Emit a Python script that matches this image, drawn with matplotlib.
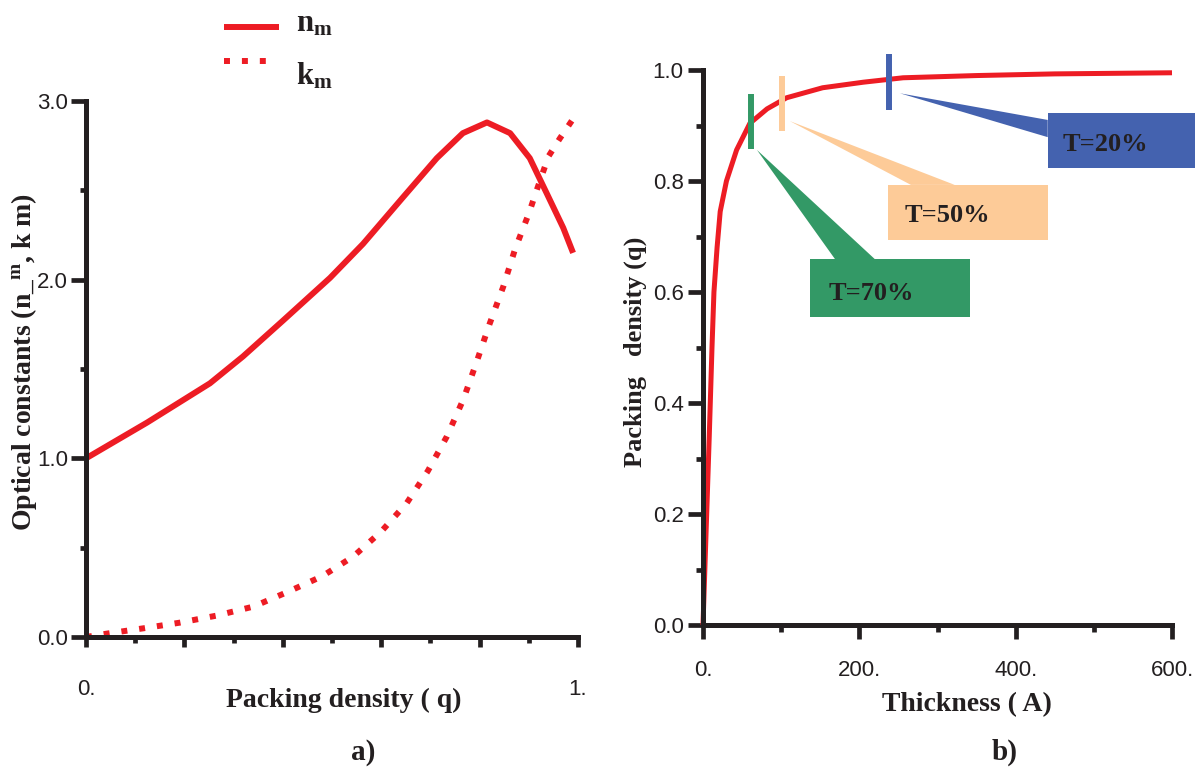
import numpy as np
import matplotlib
matplotlib.use("Agg")
import matplotlib.pyplot as plt
from matplotlib.patches import Rectangle, Polygon
from matplotlib.lines import Line2D

plt.rcParams['mathtext.fontset'] = 'custom'
plt.rcParams['mathtext.rm'] = 'Liberation Serif:bold'
plt.rcParams['mathtext.bf'] = 'Liberation Serif:bold'
plt.rcParams['mathtext.it'] = 'Liberation Serif:bold'

# ---- panel a) optical constants vs packing density ----
q_n = [0, 0.124, 0.252, 0.319, 0.40, 0.496, 0.563, 0.644, 0.713, 0.766,
       0.815, 0.862, 0.902, 0.937, 0.970, 0.99]
n_m = [1.0, 1.20, 1.42, 1.57, 1.77, 2.01, 2.20, 2.46, 2.68, 2.82,
       2.88, 2.82, 2.68, 2.48, 2.29, 2.15]

q_k = [0, 0.045, 0.12, 0.19, 0.266, 0.34, 0.408, 0.48, 0.543, 0.60, 0.652,
       0.695, 0.733, 0.767, 0.794, 0.82, 0.848, 0.872, 0.90, 0.916, 0.94,
       0.963, 0.99]
k_m = [0, 0.02, 0.05, 0.08, 0.12, 0.17, 0.25, 0.34, 0.45, 0.59, 0.75,
       0.93, 1.12, 1.33, 1.54, 1.75, 1.96, 2.17, 2.37, 2.50, 2.69,
       2.79, 2.90]

# ---- panel b) packing density vs thickness ----
thick = [0, 4, 8, 11.5, 14, 18, 22, 30, 43, 60, 82, 107, 153, 205, 256,
         350, 450, 600]
q_t = [0, 0.17, 0.34, 0.50, 0.60, 0.68, 0.745, 0.80, 0.856, 0.904, 0.93,
       0.95, 0.968, 0.978, 0.986, 0.990, 0.993, 0.995]

mark_t = [61, 101, 238]
mark_q = [0.907, 0.94, 0.978]
mark_half = 0.05
mark_labels = ['T=70%', 'T=50%', 'T=20%']
mark_colors = ['#339966', '#FDCB98', '#4462AF']

# callout boxes (t0, t1, q0, q1), text anchor, wedge tip and base, in data units
boxes = [(137, 341, 0.555, 0.659), (237, 441, 0.694, 0.793), (441, 680, 0.823, 0.922)]
text_pos = [(160, 0.598), (258, 0.737), (460, 0.865)]
wedge_tip = [(69, 0.856), (111, 0.908), (252, 0.958)]
wedge_base = [[(169, 0.659), (220, 0.659)],
              [(266, 0.793), (322, 0.793)],
              [(441, 0.910), (441, 0.879)]]

red = '#ED1C24'
black = '#231F20'
W, H = 1195, 767

fig = plt.figure(figsize=(W / 100, H / 100), dpi=100)
ax1 = fig.add_axes([86 / W, 1 - 637 / H, 492 / W, 536 / H])
ax2 = fig.add_axes([703 / W, 1 - 625 / H, 469 / W, 555 / H])

tick_font = {'family': ['Liberation Sans', 'DejaVu Sans'], 'size': 16, 'color': black}
label_font = {'family': ['Liberation Serif', 'DejaVu Serif'], 'weight': 'bold', 'color': black}

for ax in (ax1, ax2):
    for s in ('top', 'right'):
        ax.spines[s].set_visible(False)
    for s in ('left', 'bottom'):
        ax.spines[s].set_linewidth(3.6)
        ax.spines[s].set_color(black)
    ax.tick_params(which='major', length=9, width=3.4, color=black, direction='out')
    ax.tick_params(which='minor', length=4.5, width=3.4, color=black, direction='out')

# panel a
ax1.plot(q_n, n_m, color=red, lw=4.3, solid_capstyle='butt', clip_on=False)
ax1.plot(q_k, k_m, color=red, lw=4.3, linestyle=(0, (1, 2)), dash_capstyle='butt',
         clip_on=False)
ax1.set_xlim(0, 1)
ax1.set_ylim(0, 3.0)
ax1.set_xticks([0, 0.2, 0.4, 0.6, 0.8, 1.0])
ax1.set_xticklabels(['0.', '', '', '', '', '1.'], fontdict=tick_font)
ax1.set_xticks([0.1, 0.3, 0.5, 0.7, 0.9], minor=True)
ax1.set_yticks([0, 1, 2, 3])
ax1.set_yticklabels(['0.0', '1.0', '2.0', '3.0'], fontdict=tick_font)
ax1.set_yticks([0.5, 1.5, 2.5], minor=True)
ax1.tick_params(axis='x', which='major', length=7, pad=23)
ax1.tick_params(axis='y', which='major', length=11, pad=2)

# legend drawn by hand
fig.add_artist(Line2D([224 / W, 279 / W], [1 - 27 / H] * 2, color=red, lw=4.3,
                      solid_capstyle='butt'))
fig.add_artist(Line2D([224 / W, 270 / W], [1 - 61 / H] * 2, color=red, lw=4.3,
                      linestyle=(0, (1, 2)), dash_capstyle='butt'))
fig.text(296 / W, 1 - 24 / H, r'$\mathbf{n_m}$', fontsize=22, va='center', color=black)
fig.text(296 / W, 1 - 76 / H, r'$\mathbf{k_m}$', fontsize=22, va='center', color=black)

fig.text(344 / W, 1 - 700 / H, 'Packing density ( q)', fontsize=20, ha='center',
         va='center', **label_font)
fig.text(24 / W, 1 - 362 / H, r'Optical constants (n_$^{\mathbf{m}}$, k m)', fontsize=20,
         rotation=90, ha='center', va='center', **label_font)
fig.text(363 / W, 1 - 752 / H, 'a)', fontsize=21, ha='center', va='center', **label_font)

# panel b
ax2.plot(thick, q_t, color=red, lw=3.6, solid_capstyle='butt', clip_on=False)
ax2.set_xlim(0, 600)
ax2.set_ylim(0, 1.0)
ax2.set_xticks([0, 200, 400, 600])
ax2.set_xticklabels(['0.', '200.', '400.', '600.'], fontdict=tick_font)
ax2.set_xticks([100, 300, 500], minor=True)
ax2.set_yticks([0, 0.2, 0.4, 0.6, 0.8, 1.0])
ax2.set_yticklabels(['0.0', '0.2', '0.4', '0.6', '0.8', '1.0'], fontdict=tick_font)
ax2.set_yticks([0.1, 0.3, 0.5, 0.7, 0.9], minor=True)
ax2.tick_params(axis='x', which='major', length=10, pad=15)
ax2.tick_params(axis='x', which='minor', length=5)
ax2.tick_params(axis='y', which='major', length=11, pad=3)
ax2.tick_params(axis='y', which='minor', length=5)

for i in range(3):
    c = mark_colors[i]
    t0, t1, b0, b1 = boxes[i]
    ax2.add_patch(Polygon([wedge_tip[i]] + wedge_base[i], closed=True, fc=c, ec='none',
                          clip_on=False, zorder=3))
    ax2.add_patch(Rectangle((t0, b0), t1 - t0, b1 - b0, fc=c, ec='none', clip_on=False,
                            zorder=3))
    ax2.text(text_pos[i][0], text_pos[i][1], mark_labels[i], fontsize=19, ha='left',
             va='center', zorder=4, clip_on=False, **label_font)
    ax2.vlines(mark_t[i], mark_q[i] - mark_half, mark_q[i] + mark_half, colors=c,
               lw=4.3, clip_on=False, zorder=4)

fig.text(967 / W, 1 - 705 / H, 'Thickness ( A)', fontsize=20, ha='center', va='center',
         **label_font)
fig.text(635 / W, 1 - 352 / H, 'Packing   density (q)', fontsize=19, rotation=90,
         ha='center', va='center', **label_font)
fig.text(1005 / W, 1 - 752 / H, 'b)', fontsize=21, ha='center', va='center', **label_font)

fig.savefig('out.png', dpi=100)
